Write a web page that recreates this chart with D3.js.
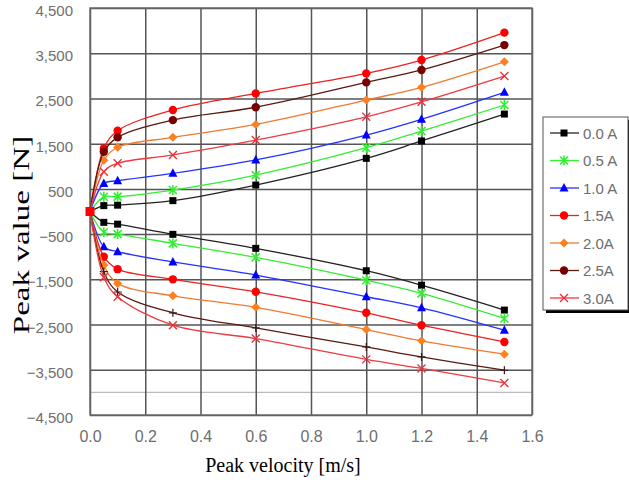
<!DOCTYPE html>
<html>
<head>
<meta charset="utf-8">
<script src="https://cdn.jsdelivr.net/npm/d3@7"></script>
<style>
  body { margin: 0; background: #fff; }
  svg { display: block; }
</style>
</head>
<body>
<div id="chart"></div>
<script>
// velocity points measured
var velocity = [0, 0.05, 0.1, 0.3, 0.6, 1.0, 1.2, 1.5];
var currents = ["0.0 A", "0.5 A", "1.0 A", "1.5A", "2.0A", "2.5A", "3.0A"];

// positive peak (N) per current
var posPeak = [
    [0, 130, 140, 240, 585, 1175, 1560, 2155],
    [0, 325, 330, 475, 805, 1410, 1780, 2355],
    [0, 620, 680, 845, 1140, 1690, 2040, 2635],
    [0, 1395, 1785, 2245, 2610, 3055, 3350, 3955],
    [0, 1135, 1420, 1640, 1925, 2465, 2745, 3310],
    [0, 1320, 1640, 2020, 2305, 2855, 3130, 3680],
    [0, 880, 1065, 1250, 1580, 2095, 2425, 2995]
];
// negative peak (N) per current
var negPeak = [
    [0, -240, -280, -505, -815, -1310, -1630, -2180],
    [0, -460, -500, -705, -1015, -1520, -1810, -2365],
    [0, -780, -890, -1115, -1405, -1885, -2130, -2625],
    [0, -1000, -1275, -1500, -1775, -2240, -2515, -2885],
    [0, -1185, -1590, -1865, -2120, -2610, -2860, -3155],
    [0, -1330, -1780, -2240, -2575, -2995, -3215, -3510],
    [0, -1455, -1885, -2515, -2810, -3270, -3470, -3790]
];
var yTicks = [-4500, -3500, -2500, -1500, -500, 500, 1500, 2500, 3500, 4500];
var xTicks = [0, 0.2, 0.4, 0.6, 0.8, 1.0, 1.2, 1.4, 1.6];

var colors = ["#000000", "#33ee33", "#0000ff", "#ff0000", "#ff7f1e", "#7a0000", "#e8323c"];
var lineColors = ["#222222", "#33ee33", "#2233ff", "#ee2020", "#f07a30", "#5a1a10", "#ee3a40"];
var posMarks = ["square", "star", "triangle", "circle", "diamond", "circle", "x"];
var negMarks = ["square", "star", "triangle", "circle", "diamond", "plus", "x"];

var svgWidth = 629, svgHeight = 482;
var margin = { top: 8, left: 90, right: 97, bottom: 67 };
var chartWidth = svgWidth - margin.left - margin.right;
var chartHeight = svgHeight - margin.top - margin.bottom;

var svg = d3.select("#chart").append("svg")
    .attr("width", svgWidth)
    .attr("height", svgHeight);

var chartGroup = svg.append("g")
    .attr("transform", `translate(${margin.left}, ${margin.top})`);

var xScale = d3.scaleLinear().domain([0, 1.6]).range([0, chartWidth]);
var yScale = d3.scaleLinear().domain([-4500, 4500]).range([chartHeight, 0]);

// light extra gridline
chartGroup.append("line")
    .attr("x1", 0).attr("x2", chartWidth)
    .attr("y1", yScale(-4000)).attr("y2", yScale(-4000))
    .attr("stroke", "#bbbbbb").attr("stroke-width", 1.2);

// y axis + horizontal grid
var yAxis = chartGroup.append("g")
    .call(d3.axisLeft(yScale).tickValues(yTicks).tickFormat(d3.format(",")).tickSize(-chartWidth).tickPadding(17));
yAxis.select(".domain").remove();
yAxis.selectAll(".tick line").attr("stroke", "#555555").attr("stroke-width", 1.5);
yAxis.selectAll(".tick text")
    .attr("dy", "0.5em")
    .style("font-family", "Liberation Sans, Arial, sans-serif")
    .style("font-size", "15px")
    .attr("fill", "#6e6e6e");

// x axis + vertical grid
var xAxis = chartGroup.append("g")
    .attr("transform", `translate(0, ${chartHeight})`)
    .call(d3.axisBottom(xScale).tickValues(xTicks).tickFormat(d3.format(".1f")).tickSize(-chartHeight).tickPadding(16));
xAxis.select(".domain").remove();
xAxis.selectAll(".tick line").attr("stroke", "#555555").attr("stroke-width", 1.5);
xAxis.selectAll(".tick text")
    .style("font-family", "Liberation Sans, Arial, sans-serif")
    .style("font-size", "16px")
    .attr("fill", "#6e6e6e");

// frame
chartGroup.append("rect")
    .attr("width", chartWidth).attr("height", chartHeight)
    .attr("fill", "none").attr("stroke", "#6a6a6a").attr("stroke-width", 1.4);

var line = d3.line()
    .x(d => xScale(d[0]))
    .y(d => yScale(d[1]))
    .curve(d3.curveCatmullRom.alpha(0.5));

function drawMarker(g, type, color, cx, cy) {
    if (type == "square") {
        g.append("rect").attr("x", cx - 3.5).attr("y", cy - 3.5).attr("width", 7).attr("height", 7).attr("fill", color);
    } else if (type == "circle") {
        g.append("circle").attr("cx", cx).attr("cy", cy).attr("r", 4.2).attr("fill", color);
    } else if (type == "triangle") {
        g.append("path").attr("d", `M${cx},${cy - 5}L${cx + 4.5},${cy + 3.5}L${cx - 4.5},${cy + 3.5}Z`).attr("fill", color);
    } else if (type == "diamond") {
        g.append("path").attr("d", `M${cx},${cy - 4.5}L${cx + 4.5},${cy}L${cx},${cy + 4.5}L${cx - 4.5},${cy}Z`).attr("fill", color);
    } else if (type == "x") {
        g.append("path").attr("d", `M${cx - 4},${cy - 4}L${cx + 4},${cy + 4}M${cx - 4},${cy + 4}L${cx + 4},${cy - 4}`)
            .attr("stroke", color).attr("stroke-width", 1.4);
    } else if (type == "star") {
        g.append("path").attr("d", `M${cx - 4},${cy - 4}L${cx + 4},${cy + 4}M${cx - 4},${cy + 4}L${cx + 4},${cy - 4}M${cx},${cy - 5}L${cx},${cy + 5}`)
            .attr("stroke", color).attr("stroke-width", 1.6);
    } else if (type == "plus") {
        g.append("path").attr("d", `M${cx - 4},${cy}L${cx + 4},${cy}M${cx},${cy - 4}L${cx},${cy + 4}`)
            .attr("stroke", color).attr("stroke-width", 1.2);
    }
}

var seriesGroup = chartGroup.append("g");
currents.forEach(function(c, i) {
    [posPeak[i], negPeak[i]].forEach(function(vals, k) {
        var pts = velocity.map((v, j) => [v, vals[j]]);
        seriesGroup.append("path")
            .attr("d", line(pts))
            .attr("fill", "none")
            .attr("stroke", lineColors[i])
            .attr("stroke-width", 1.3);
        var mark = k == 0 ? posMarks[i] : negMarks[i];
        var mcol = (k == 1 && i == 5) ? "#3a1a10" : colors[i];
        pts.slice(1).forEach(function(p) {
            drawMarker(seriesGroup, mark, mcol, xScale(p[0]), yScale(p[1]));
        });
    });
});
// common origin point
drawMarker(seriesGroup, "square", "#ff0000", xScale(velocity[0]), yScale(0));
seriesGroup.select("rect:last-child").attr("width", 9).attr("height", 9)
    .attr("x", xScale(velocity[0]) - 4.5).attr("y", yScale(0) - 4.5);

// axis titles
svg.append("text")
    .attr("x", 283).attr("y", 472)
    .attr("text-anchor", "middle")
    .style("font-family", "Liberation Serif, Times New Roman, serif")
    .style("font-size", "20px")
    .text("Peak velocity [m/s]");

svg.append("text")
    .attr("transform", "translate(29, 235) rotate(-90) scale(1.38, 1)")
    .attr("text-anchor", "middle")
    .style("font-family", "Liberation Serif, Times New Roman, serif")
    .style("font-size", "24px")
    .text("Peak value [N]");

// legend
var legend = svg.append("g").attr("transform", "translate(543, 117)");
legend.append("rect").attr("x", 3).attr("y", 3).attr("width", 86).attr("height", 193).attr("fill", "#000");
legend.append("rect").attr("width", 85).attr("height", 193)
    .attr("fill", "#fff").attr("stroke", "#555").attr("stroke-width", 1);
currents.forEach(function(c, i) {
    var ly = 16 + i * 27.5;
    legend.append("line")
        .attr("x1", 7).attr("x2", 36).attr("y1", ly).attr("y2", ly)
        .attr("stroke", lineColors[i]).attr("stroke-width", 1.3);
    drawMarker(legend, posMarks[i], colors[i], 21, ly);
    legend.append("text")
        .attr("x", 40).attr("y", ly + 5.5)
        .style("font-family", "Liberation Sans, Arial, sans-serif")
        .style("font-size", "15px")
        .attr("fill", "#6e6e6e")
        .text(c);
});
</script>
</body>
</html>
